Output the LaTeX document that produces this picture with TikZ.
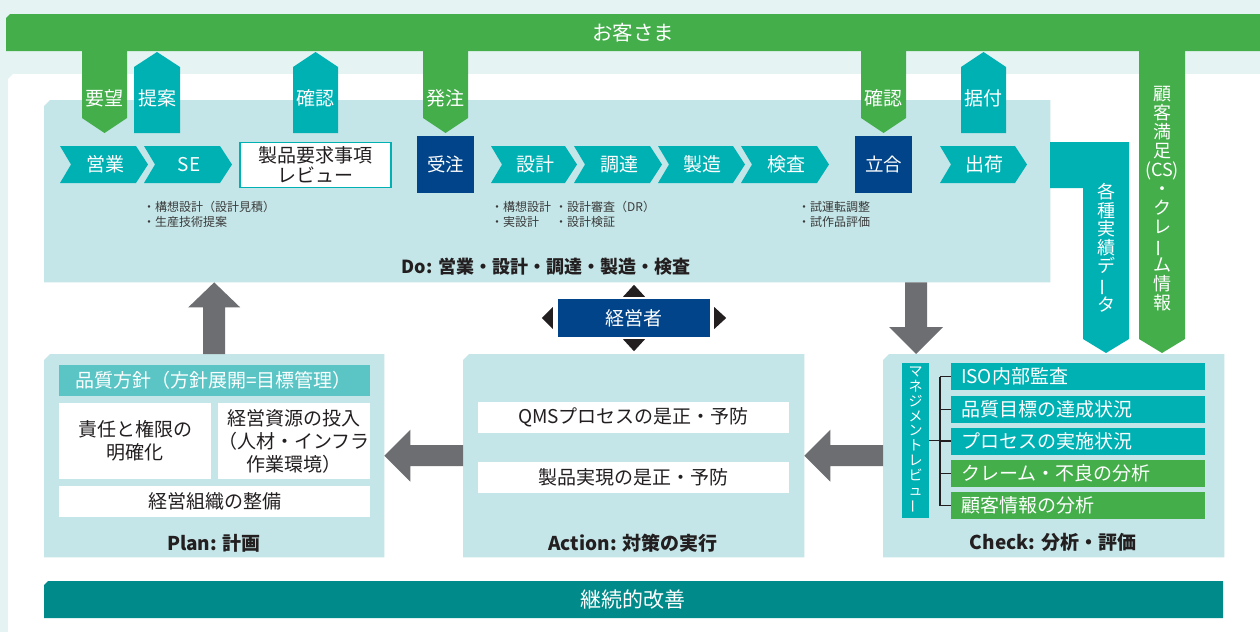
\documentclass[tikz,border=0pt]{standalone}
\usepackage{fontspec}
\setmainfont{Noto Sans CJK JP}
\usepackage{graphicx}
\usetikzlibrary{calc}
\definecolor{bgl}{HTML}{E5F3F3}
\definecolor{grn}{HTML}{43AE4A}
\definecolor{tea}{HTML}{00B1B4}
\definecolor{dbl}{HTML}{01448A}
\definecolor{lbx}{HTML}{C5E6E8}
\definecolor{gra}{HTML}{6D6E71}
\definecolor{hdr}{HTML}{5BC5C6}
\definecolor{dtea}{HTML}{008A89}
\definecolor{txt}{HTML}{3A3A3A}
\definecolor{dark}{HTML}{231F20}
\newcommand\fs[2]{\fontsize{#1}{#2}\selectfont}
\newcommand\vbar{\rotatebox[origin=c]{90}{ー}}
\tikzset{
  wtxt/.style={text=white, inner sep=0},
  tabtxt/.style={text=white, inner sep=0, font=\fs{19}{21}},
  chevtxt/.style={text=white, inner sep=0, font=\fs{19}{21}},
  note/.style={text=txt, inner sep=0, align=left, font=\fs{12}{15}},
  lbl/.style={text=dark, inner sep=0, font=\bfseries\fs{19}{21}},
  dbox/.style={fill=dbl, text=white, inner sep=0, minimum width=57, minimum height=57, font=\fs{18.5}{21}},
  wbox/.style={fill=white, text=dark, inner sep=0, align=center, font=\fs{19}{23}},
  item/.style={text=white, inner xsep=10pt, inner ysep=0, minimum width=254, minimum height=27, text width=234pt, align=left, font=\fs{19}{21}},
  brk/.style={draw=dark, line width=1.1pt},
  tri/.style={fill=dark},
}
\newcommand\lbox[5]{\node[inner sep=0, minimum width={#4-#2}, minimum height={#5-#3}, anchor=north west] (#1) at (#2,#3) {};
  \fill[lbx] ([xshift=6pt]#1.north west) -- (#1.north east) -- (#1.south east) -- (#1.south west) -- ([yshift=-6pt]#1.north west) -- cycle;}
\newcommand\tabdown[5]{\fill[#4] (#2,51) -- (#3,51) -- (#3,118) -- ({(#2+#3)/2},133) -- (#2,118) -- cycle;
  \node[tabtxt] (#1) at ({(#2+#3)/2},98) {#5};}
\newcommand\tabup[5]{\fill[#4] (#2,133) -- (#2,67) -- ({(#2+#3)/2},52) -- (#3,67) -- (#3,133) -- cycle;
  \node[tabtxt] (#1) at ({(#2+#3)/2},98) {#5};}
\newcommand\chev[4]{\fill[tea] (#2,146) -- (#3-12,146) -- (#3,164.5) -- (#3-12,183) -- (#2,183) -- (#2+11,164.5) -- cycle;
  \node[chevtxt] (#1) at ({(#2+#3)/2+1},164.5) {#4};}
\begin{document}
\begin{tikzpicture}[x=1pt,y=-1pt]
\useasboundingbox (0,0) rectangle (1260,632);
\fill[bgl] (0,0) rectangle (1260,632);
\fill[white] (13,74) -- (1260,74) -- (1260,632) -- (8,632) -- (8,79) -- cycle;
% top bar
\fill[grn] (10,14) -- (1260,14) -- (1260,51) -- (6,51) -- (6,18) -- cycle;
\node[wtxt, font=\fs{20.5}{22}] (cust) at (633,33) {お客さま};
% boxes
\lbox{do}{44}{100}{1050}{282}
\lbox{plan}{44}{354}{384}{557}
\lbox{act}{463}{354}{804}{557}
\lbox{chk}{883}{354}{1224}{557}
% tabs
\tabdown{t1}{82}{127}{grn}{要望}
\tabup{t2}{134}{180}{tea}{提案}
\tabup{t3}{293}{338}{tea}{確認}
\tabdown{t4}{423}{468}{grn}{発注}
\tabdown{t5}{861}{906}{grn}{確認}
\tabup{t6}{961}{1006}{tea}{据付}
% data L-shape and CS bar
\fill[tea] (1050,142) -- (1129,142) -- (1129,339) -- (1106,353) -- (1083,339) -- (1083,188) -- (1050,188) -- cycle;
\node[wtxt, align=center, font=\fs{18}{18.5}] (jd) at (1106,248) {各\\種\\実\\績\\デ\\\vbar\\タ};
\fill[grn] (1139,51) -- (1185,51) -- (1185,339) -- (1162,353) -- (1139,339) -- cycle;
\node[wtxt, align=center, font=\fs{18}{19}] (cs) at (1162,199) {顧\\客\\満\\足\\(CS)\\・\\ク\\レ\\\vbar\\ム\\情\\報};
% chevrons
\chev{c1}{60}{148}{営業}
\chev{c2}{144}{232}{SE}
\chev{c3}{491}{577}{設計}
\chev{c4}{574}{662}{調達}
\chev{c5}{658}{745}{製造}
\chev{c6}{741}{829}{検査}
\chev{c7}{940}{1027}{出荷}
\node[draw=tea, line width=1.2pt, fill=white, minimum width=151, minimum height=45, inner sep=0, align=center, font=\fs{19}{20}, text=dark] (rev) at (315.5,165) {製品要求事項\\レビュー};
\node[dbox] (ju) at (445.5,164.5) {受注};
\node[dbox] (ta) at (883.5,164.5) {立合};
% notes
\node[note, anchor=west] (n1) at (143,214.5) {・構想設計（設計見積）\\・生産技術提案};
\node[note, anchor=west] (n2) at (491,214.5) {・構想設計\\・実設計};
\node[note, anchor=west] (n3) at (555,214.5) {・設計審査（DR）\\・設計検証};
\node[note, anchor=west] (n4) at (798,214.5) {・試運転調整\\・試作品評価};
\node[lbl, font=\bfseries\fs{18}{21}] (dol) at (546,267) {Do: 営業・設計・調達・製造・検査};
% manager
\node[dbox, minimum width=152, minimum height=38, font=\fs{19}{21}] (mgr) at (634,318) {経営者};
\fill[tri] ($(mgr.north)+(-11,-2)$) -- ($(mgr.north)+(11,-2)$) -- ($(mgr.north)+(0,-14)$) -- cycle;
\fill[tri] ($(mgr.south)+(-11,2)$) -- ($(mgr.south)+(11,2)$) -- ($(mgr.south)+(0,14)$) -- cycle;
\fill[tri] ($(mgr.west)+(-5,-11)$) -- ($(mgr.west)+(-5,11)$) -- ($(mgr.west)+(-16,0)$) -- cycle;
\fill[tri] ($(mgr.east)+(4,-11)$) -- ($(mgr.east)+(4,11)$) -- ($(mgr.east)+(16,0)$) -- cycle;
% plan
\node[fill=hdr, text=white, inner xsep=16pt, inner ysep=0, minimum width=311, minimum height=31, text width=279pt, align=left, font=\fs{19}{21}] (ph) at (214.5,380.5) {品質方針（方針展開=目標管理）};
\node[wbox, minimum width=152, minimum height=76] (p1) at (135,441) {責任と権限の\\明確化};
\node[wbox, minimum width=152, minimum height=76] (p2) at (294,441) {経営資源の投入\\（人材・インフラ\\作業環境）};
\node[wbox, minimum width=311, minimum height=31] (p3) at (214.5,501.5) {経営組織の整備};
\node[lbl] (pl) at (214,543) {Plan: 計画};
% action
\node[wbox, minimum width=311, minimum height=31] (a1) at (633.5,417.5) {QMSプロセスの是正・予防};
\node[wbox, minimum width=311, minimum height=31] (a2) at (633.5,477.5) {製品実現の是正・予防};
\node[lbl] (al) at (633,543) {Action: 対策の実行};
% check
\node[fill=tea, text=white, inner sep=0, minimum width=27, minimum height=155, align=center, font=\fs{14}{14.8}] (mr) at (915.5,440.5) {マ\\ネ\\ジ\\メ\\ン\\ト\\レ\\ビ\\ュ\\\vbar};
\node[item, fill=tea] (i1) at (1078,376.5) {ISO内部監査};
\node[item, fill=tea] (i2) at (1078,409.5) {品質目標の達成状況};
\node[item, fill=tea] (i3) at (1078,441) {プロセスの実施状況};
\node[item, fill=grn] (i4) at (1078,473.5) {クレーム・不良の分析};
\node[item, fill=grn] (i5) at (1078,505.5) {顧客情報の分析};
\node[lbl] (cl) at (1053,542) {Check: 分析・評価};
\coordinate (bk) at (940,441);
\draw[brk] (mr.east) -- (mr.east -| bk);
\draw[brk] (bk |- i1.west) -- (bk |- i5.west);
\foreach \i in {1,...,5} \draw[brk] (bk |- i\i.west) -- (i\i.west);
% bottom bar
\fill[dtea] (48,581) -- (1223,581) -- (1223,618) -- (44,618) -- (44,585) -- cycle;
\node[wtxt, font=\fs{21}{23}] (kai) at (633,600) {継続的改善};
% gray arrows
\coordinate (ua) at (plan.north);
\coordinate (ub) at (plan.north |- do.south);
\fill[gra] ($(ua)+(-11,0)$) -- ($(ub)+(-11,25)$) -- ($(ub)+(-26,25)$) -- (ub) -- ($(ub)+(26,25)$) -- ($(ub)+(11,25)$) -- ($(ua)+(11,0)$) -- cycle;
\coordinate (dx) at (916,0);
\coordinate (da) at (do.south -| dx);
\coordinate (db) at (chk.north -| dx);
\fill[gra] ($(da)+(-11,0)$) -- ($(db)+(-11,-27)$) -- ($(db)+(-27,-27)$) -- (db) -- ($(db)+(27,-27)$) -- ($(db)+(11,-27)$) -- ($(da)+(11,0)$) -- cycle;
\coordinate (la) at (act.west);
\coordinate (lb) at (plan.east);
\fill[gra] ($(la)+(0,-10.5)$) -- ($(lb)+(26,-10.5)$) -- ($(lb)+(26,-26)$) -- (lb) -- ($(lb)+(26,26)$) -- ($(lb)+(26,10.5)$) -- ($(la)+(0,10.5)$) -- cycle;
\coordinate (ra) at (chk.west);
\coordinate (rb) at (act.east);
\fill[gra] ($(ra)+(0,-10.5)$) -- ($(rb)+(26,-10.5)$) -- ($(rb)+(26,-26)$) -- (rb) -- ($(rb)+(26,26)$) -- ($(rb)+(26,10.5)$) -- ($(ra)+(0,10.5)$) -- cycle;
\end{tikzpicture}
\end{document}
